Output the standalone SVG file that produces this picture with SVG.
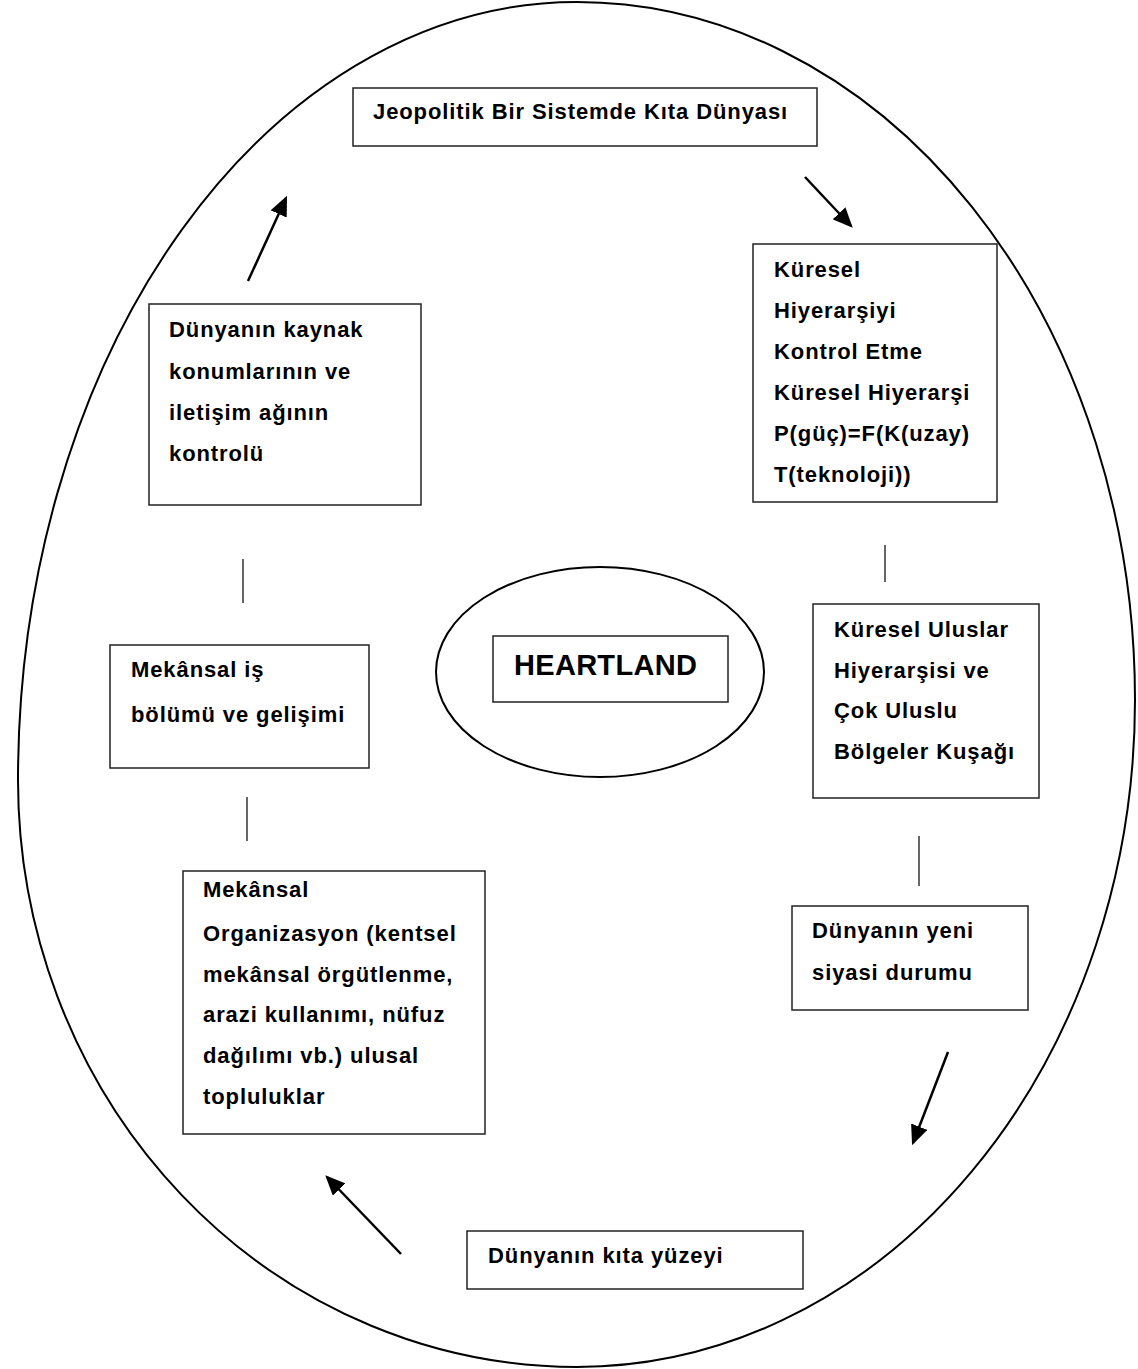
<svg xmlns="http://www.w3.org/2000/svg" width="1138" height="1369" viewBox="0 0 1138 1369">
<defs>
<style>
.box{fill:#fff;stroke:#222;stroke-width:1.5}
.t{font-family:"Liberation Sans",Arial,sans-serif;font-weight:bold;font-size:22px;letter-spacing:0.9px;fill:#000}
.h{font-family:"Liberation Sans",Arial,sans-serif;font-weight:bold;font-size:29px;letter-spacing:0.3px;fill:#000}
.ln{stroke:#000;stroke-width:1.2;fill:none}
.ar{stroke:#000;stroke-width:2.5;fill:none;marker-end:url(#ah)}
</style>
<marker id="ah" markerWidth="8" markerHeight="7" refX="7" refY="3.5" orient="auto" markerUnits="strokeWidth">
<path d="M0,0 L8,3.5 L0,7 Z" fill="#000"/>
</marker>
</defs>
<rect width="1138" height="1369" fill="#fff"/>
<g id="outer">
<path d="M18,780 A559,778 0 0 1 577,2 A558,698 0 0 1 1135,700 A558,667 0 0 1 577,1367 A559,587 0 0 1 18,780 Z" fill="none" stroke="#000" stroke-width="2"/>
</g>
<g id="connectors">
<line class="ar" x1="248" y1="281" x2="286" y2="198"/>
<line class="ar" x1="805" y1="177" x2="851" y2="226"/>
<line class="ar" x1="948" y1="1052" x2="913" y2="1143"/>
<line class="ar" x1="401" y1="1254" x2="327" y2="1177"/>
<line class="ln" x1="885" y1="545" x2="885" y2="582"/>
<line class="ln" x1="919" y1="836" x2="919" y2="886"/>
<line class="ln" x1="243" y1="559" x2="243" y2="603"/>
<line class="ln" x1="247" y1="797" x2="247" y2="841"/>
</g>
<g id="n-jeopolitik">
<rect class="box" x="353" y="88" width="464" height="58"/>
<text class="t" x="373" y="119">Jeopolitik Bir Sistemde Kıta Dünyası</text>
</g>
<g id="n-kuresel">
<rect class="box" x="753" y="244" width="244" height="258"/>
<text class="t" x="774" y="277">Küresel</text>
<text class="t" x="774" y="318">Hiyerarşiyi</text>
<text class="t" x="774" y="359">Kontrol Etme</text>
<text class="t" x="774" y="400">Küresel Hiyerarşi</text>
<text class="t" x="774" y="441">P(güç)=F(K(uzay)</text>
<text class="t" x="774" y="482">T(teknoloji))</text>
</g>
<g id="n-uluslar">
<rect class="box" x="813" y="604" width="226" height="194"/>
<text class="t" x="834" y="637">Küresel Uluslar</text>
<text class="t" x="834" y="678">Hiyerarşisi ve</text>
<text class="t" x="834" y="718">Çok Uluslu</text>
<text class="t" x="834" y="759">Bölgeler Kuşağı</text>
</g>
<g id="n-yeni">
<rect class="box" x="792" y="906" width="236" height="104"/>
<text class="t" x="812" y="938">Dünyanın yeni</text>
<text class="t" x="812" y="980">siyasi durumu</text>
</g>
<g id="n-kita">
<rect class="box" x="467" y="1231" width="336" height="58"/>
<text class="t" x="488" y="1263">Dünyanın kıta yüzeyi</text>
</g>
<g id="n-organizasyon">
<rect class="box" x="183" y="871" width="302" height="263"/>
<text class="t" x="203" y="897">Mekânsal</text>
<text class="t" x="203" y="941">Organizasyon (kentsel</text>
<text class="t" x="203" y="982">mekânsal örgütlenme,</text>
<text class="t" x="203" y="1022">arazi kullanımı, nüfuz</text>
<text class="t" x="203" y="1063">dağılımı vb.) ulusal</text>
<text class="t" x="203" y="1104">topluluklar</text>
</g>
<g id="n-isbolumu">
<rect class="box" x="110" y="645" width="259" height="123"/>
<text class="t" x="131" y="677">Mekânsal iş</text>
<text class="t" x="131" y="722">bölümü ve gelişimi</text>
</g>
<g id="n-kaynak">
<rect class="box" x="149" y="304" width="272" height="201"/>
<text class="t" x="169" y="337">Dünyanın kaynak</text>
<text class="t" x="169" y="379">konumlarının ve</text>
<text class="t" x="169" y="420">iletişim ağının</text>
<text class="t" x="169" y="461">kontrolü</text>
</g>
<g id="n-heartland">
<ellipse cx="600" cy="672" rx="164" ry="105" fill="#fff" stroke="#000" stroke-width="2"/>
<rect class="box" x="493" y="636" width="235" height="66"/>
<text class="h" x="514" y="675">HEARTLAND</text>
</g>
</svg>
